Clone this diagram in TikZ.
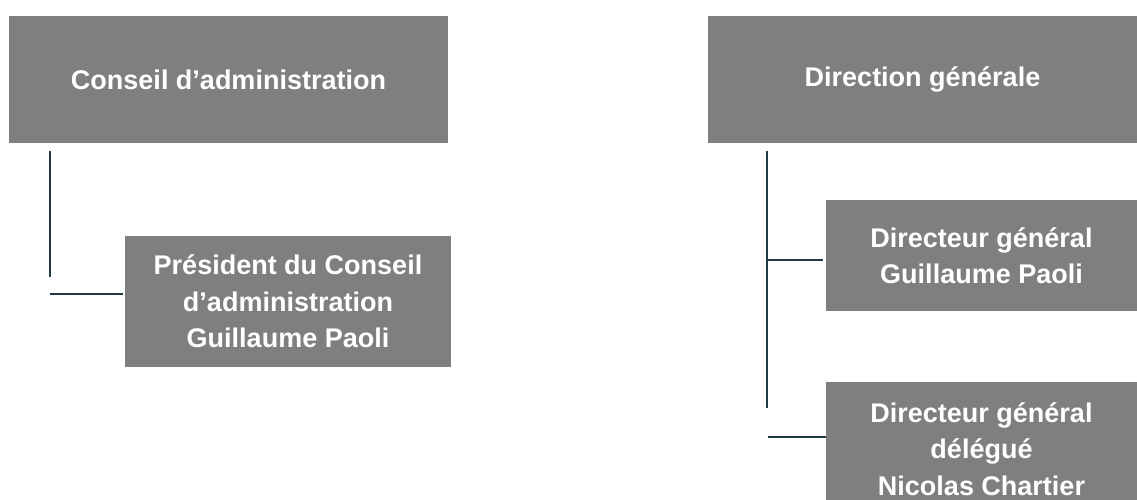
\documentclass[tikz,border=0pt]{standalone}
\usepackage{fontspec}
\setmainfont{Liberation Sans}
\usetikzlibrary{positioning}
\definecolor{boxgray}{HTML}{7F7F7F}
\definecolor{linkteal}{HTML}{1F3A40}

\begin{document}
\begin{tikzpicture}[
        x=1pt, y=-1pt,
        unit/.style={rectangle, fill=boxgray, text=white, align=center, inner sep=0pt,
            font=\fontsize{27}{36.5}\selectfont\bfseries},
        link/.style={draw, linkteal, line width=1.5pt}
        ]

        \useasboundingbox (0,0) rectangle (1137,500);

        % Nodes
        \node (conseil) [unit, minimum width=439pt, minimum height=127pt] at (228.5,79.5) {Conseil d'administration};
        \node (direction) [unit, minimum width=429pt, minimum height=127pt] at (922.5,79.5) {Direction générale};
        \node (president) [unit, minimum width=326pt, minimum height=131pt] at (288,301.5) {Président du Conseil\\d'administration\\Guillaume Paoli};
        \node (dg) [unit, minimum width=311pt, minimum height=111pt] at (981.5,255.5) {Directeur général\\Guillaume Paoli};
        \node (dgd) [unit, minimum width=311pt, minimum height=134pt] at (981.5,449) {Directeur général\\délégué\\Nicolas Chartier};

        % Links
        \draw [link] ([xshift=41pt, yshift=-8pt]conseil.south west) -- ++(0,126);
        \draw [link] ([xshift=-2pt, yshift=7.5pt]president.west) -- ++(-73,0);
        \draw [link] ([xshift=59pt, yshift=-8pt]direction.south west) -- ++(0,257);
        \draw [link] ([xshift=-3pt, yshift=-4.5pt]dg.west) -- ++(-55,0);
        \draw [link] ([yshift=12pt]dgd.west) -- ++(-58,0);

    \end{tikzpicture}
\end{document}
